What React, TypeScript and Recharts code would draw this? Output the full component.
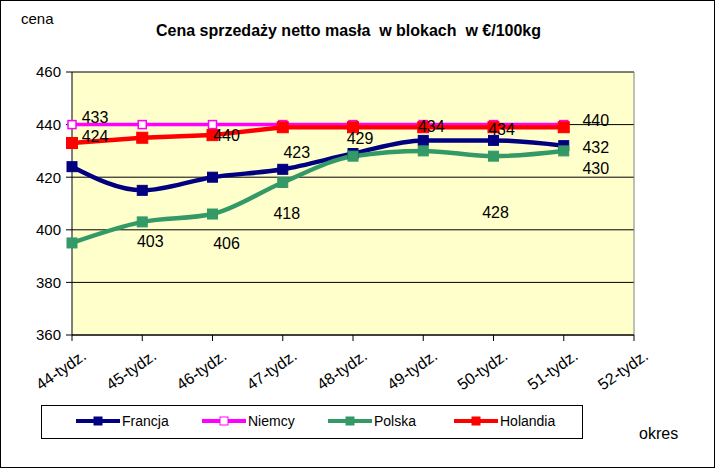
import React from "react";
import {
    CartesianGrid,
    LabelList,
    Legend,
    Line,
    LineChart,
    ReferenceLine,
    XAxis,
    YAxis
} from "recharts";

const weeks = ["44-tydz.", "45-tydz.", "46-tydz.", "47-tydz.", "48-tydz.", "49-tydz.", "50-tydz.", "51-tydz.", "52-tydz."];
const francja = [424, 415, 420, 423, 429, 434, 434, 432, null];
const niemcy = [440, 440, 440, 440, 440, 440, 440, 440, null];
const polska = [395, 403, 406, 418, 428, 430, 428, 430, null];
const holandia = [433, 435, 436, 439, 439, 439, 439, 439, null];
const yTicks = [360, 380, 400, 420, 440, 460];

// which points carry a value label
const francjaLabeled = [0, 3, 4, 5, 6, 7];
const niemcyLabeled = [2, 7];
const polskaLabeled = [1, 2, 3, 6, 7];
const holandiaLabeled = [0];

const data = weeks.map((w, i) => ({
    week: w,
    francja: francja[i],
    niemcy: niemcy[i],
    polska: polska[i],
    holandia: holandia[i]
}));

// label offsets from the point (dx, dy), as Excel placed them
const labelOffsets: Record<string, Record<number, [number, number]>> = {
    francja: { 0: [23, -30], 3: [14, -17], 4: [7, -15], 5: [8, -14], 6: [8, -11], 7: [32, 2] },
    niemcy: { 2: [14, 11], 7: [32, -4] },
    polska: { 1: [8, 20], 2: [14, 29], 3: [4, 31], 6: [2, 56], 7: [32, 18] },
    holandia: { 0: [23, -26] }
};

const series = [
    { key: "francja", name: "Francja", color: "#000080", width: 4.5, size: 10, hollow: false, type: "monotone", labeled: francjaLabeled },
    { key: "niemcy", name: "Niemcy", color: "#FF00FF", width: 3.5, size: 8, hollow: true, type: "linear", labeled: niemcyLabeled },
    { key: "polska", name: "Polska", color: "#339966", width: 4.5, size: 10, hollow: false, type: "monotone", labeled: polskaLabeled },
    { key: "holandia", name: "Holandia", color: "#FF0000", width: 4.5, size: 11, hollow: false, type: "linear", labeled: holandiaLabeled }
];

const FONT = "'Liberation Sans', Arial, sans-serif";

const squareDot = (color: string, size: number, hollow: boolean) => (props: any) => {
    const { cx, cy, index } = props;
    if (cx == null || cy == null || props.value == null) return <g key={index} />;
    return (
        <rect
            key={index}
            x={cx - size / 2}
            y={cy - size / 2}
            width={size}
            height={size}
            fill={hollow ? "#fff" : color}
            stroke={color}
            strokeWidth={hollow ? 1.5 : 1}
        />
    );
};

const valueLabel = (key: string, labeled: number[]) => (props: any) => {
    const { x, y, value, index } = props;
    if (!labeled.includes(index) || value == null) return null;
    const [dx, dy] = labelOffsets[key][index] || [0, -12];
    return (
        <text x={x + dx} y={y + dy} textAnchor="middle" dominantBaseline="central" fontSize={16} fontFamily={FONT} fill="#000">
            {value}
        </text>
    );
};

const WeekTick = (props: any) => {
    const { x, y, payload } = props;
    return (
        <g transform={`translate(${x + 9},${y + 6})`}>
            <text textAnchor="end" transform="rotate(-35)" fontSize={16} fontFamily={FONT} fill="#000" dy="0.7em">
                {payload.value}
            </text>
        </g>
    );
};

const renderLegend = () => (
    <div style={{ position: "relative", width: "100%", height: "100%", fontFamily: FONT, fontSize: 14 }}>
        {series.map((s, i) => (
            <div key={s.key} style={{ position: "absolute", left: 34 + i * 126, top: 7, display: "flex", alignItems: "center" }}>
                <svg width={44} height={16}>
                    <line x1={0} y1={8} x2={44} y2={8} stroke={s.color} strokeWidth={4} />
                    <rect x={18} y={4} width={8} height={8} fill={s.hollow ? "#fff" : s.color} stroke={s.color} strokeWidth={1} />
                </svg>
                <span style={{ marginLeft: 2 }}>{s.name}</span>
            </div>
        ))}
    </div>
);

export default function App() {
    return (
        <div style={{ position: "absolute", left: 0, top: 0, width: 715, height: 468, background: "#fff", boxSizing: "border-box", border: "1px solid #000", fontFamily: FONT }}>
            <div style={{ position: "absolute", left: -10, width: 715, top: 21, textAlign: "center", fontWeight: "bold", fontSize: 16 }}>
                Cena sprzedaży netto masła&nbsp; w blokach&nbsp; w €/100kg
            </div>
            <div style={{ position: "absolute", left: 20, top: 9, fontSize: 15 }}>cena</div>
            <div style={{ position: "absolute", left: 638, top: 424, fontSize: 16 }}>okres</div>
            <div style={{ position: "absolute", left: -1, top: -1 }}>
                <LineChart width={715} height={468} data={data} margin={{ top: 72, right: 81, bottom: 0, left: 0 }}>
                    <CartesianGrid vertical={false} stroke="#000" fill="#FFFFCC" />
                    <XAxis
                        dataKey="week"
                        height={133}
                        interval={0}
                        tick={<WeekTick />}
                        tickSize={6}
                        axisLine={{ stroke: "#000" }}
                        tickLine={{ stroke: "#000" }}
                    />
                    <YAxis
                        width={72}
                        type="number"
                        domain={[360, 460]}
                        ticks={yTicks}
                        tickSize={6}
                        tickMargin={5}
                        tick={{ fontSize: 15, fill: "#000", fontFamily: FONT }}
                        axisLine={{ stroke: "#000" }}
                        tickLine={{ stroke: "#000" }}
                    />
                    <ReferenceLine x="52-tydz." stroke="#808080" />
                    <Legend
                        layout="horizontal"
                        verticalAlign="middle"
                        align="center"
                        content={renderLegend}
                        wrapperStyle={{ left: 41, top: 405, width: 542, height: 34, border: "1px solid #000", boxSizing: "border-box", background: "#fff" }}
                    />
                    {series.map((s) => (
                        <Line
                            key={s.key}
                            type={s.type as any}
                            dataKey={s.key}
                            name={s.name}
                            stroke={s.color}
                            strokeWidth={s.width}
                            dot={squareDot(s.color, s.size, s.hollow)}
                            activeDot={false}
                            isAnimationActive={false}
                        >
                            <LabelList dataKey={s.key} content={valueLabel(s.key, s.labeled)} />
                        </Line>
                    ))}
                </LineChart>
            </div>
        </div>
    );
}
